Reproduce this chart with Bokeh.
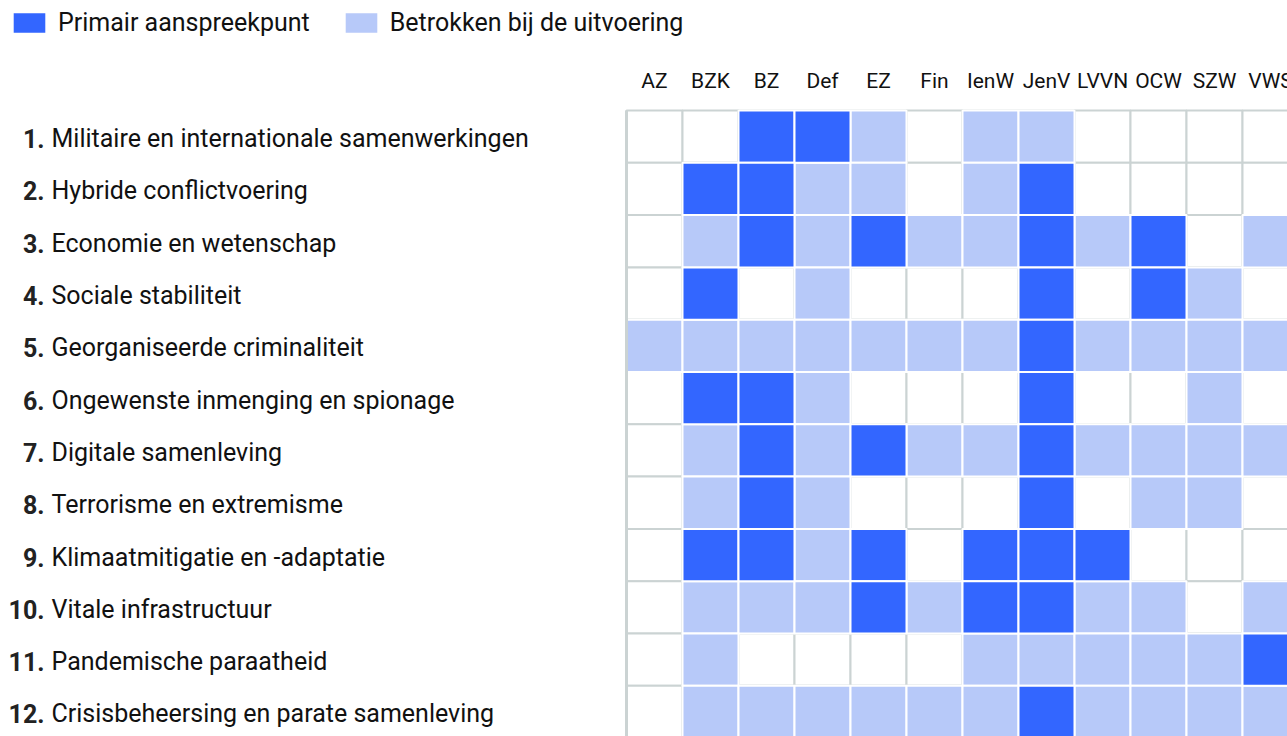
from bokeh.plotting import figure
from bokeh.models import Range1d, ColumnDataSource, Legend, LegendItem
from bokeh.core.properties import value
from bokeh.embed import file_html
from bokeh.resources import INLINE

# ---------------- data ----------------
ministries = ["AZ", "BZK", "BZ", "Def", "EZ", "Fin", "IenW", "JenV", "LVVN", "OCW", "SZW", "VWS"]
theme_numbers = ["1.", "2.", "3.", "4.", "5.", "6.", "7.", "8.", "9.", "10.", "11.", "12."]
themes = [
    "Militaire en internationale samenwerkingen",
    "Hybride conflictvoering",
    "Economie en wetenschap",
    "Sociale stabiliteit",
    "Georganiseerde criminaliteit",
    "Ongewenste inmenging en spionage",
    "Digitale samenleving",
    "Terrorisme en extremisme",
    "Klimaatmitigatie en -adaptatie",
    "Vitale infrastructuur",
    "Pandemische paraatheid",
    "Crisisbeheersing en parate samenleving",
]
# 2 = Primair aanspreekpunt, 1 = Betrokken bij de uitvoering, 0 = geen rol
#          AZ BZK BZ Def EZ Fin IenW JenV LVVN OCW SZW VWS
theme01 = [0, 0, 2, 2, 1, 0, 1, 1, 0, 0, 0, 0]
theme02 = [0, 2, 2, 1, 1, 0, 1, 2, 0, 0, 0, 0]
theme03 = [0, 1, 2, 1, 2, 1, 1, 2, 1, 2, 0, 1]
theme04 = [0, 2, 0, 1, 0, 0, 0, 2, 0, 2, 1, 0]
theme05 = [1, 1, 1, 1, 1, 1, 1, 2, 1, 1, 1, 1]
theme06 = [0, 2, 2, 1, 0, 0, 0, 2, 0, 0, 1, 0]
theme07 = [0, 1, 2, 1, 2, 1, 1, 2, 1, 1, 1, 1]
theme08 = [0, 1, 2, 1, 0, 0, 0, 2, 0, 1, 1, 0]
theme09 = [0, 2, 2, 1, 2, 0, 2, 2, 2, 0, 0, 0]
theme10 = [0, 1, 1, 1, 2, 1, 2, 2, 1, 1, 0, 1]
theme11 = [0, 1, 0, 0, 0, 0, 1, 1, 1, 1, 1, 2]
theme12 = [0, 1, 1, 1, 1, 1, 1, 2, 1, 1, 1, 1]
matrix = [theme01, theme02, theme03, theme04, theme05, theme06,
          theme07, theme08, theme09, theme10, theme11, theme12]
legend_labels = ["Primair aanspreekpunt", "Betrokken bij de uitvoering"]

# ---------------- style / layout ----------------
W, H = 1287, 736
CELL_W_PX, CELL_H_PX = 56.0, 52.3
GRID_LEFT_PX, GRID_TOP_PX = 626, 110
X0 = -GRID_LEFT_PX / CELL_W_PX
X1 = X0 + W / CELL_W_PX
Y0 = -GRID_TOP_PX / CELL_H_PX
Y1 = Y0 + H / CELL_H_PX
HEADER_Y = Y0 + 80 / CELL_H_PX
NUM_X = X0 + 44 / CELL_W_PX
TEXT_X = X0 + 51 / CELL_W_PX

DARK = "#3366ff"
LIGHT = "#b7c9f9"
GRID = "#cbd3d3"
FONT = "Roboto"

# ---------------- sources ----------------
all_x, all_y = [], []
dark_x, dark_y, light_x, light_y = [], [], [], []
for i, row in enumerate(matrix):
    for j, v in enumerate(row):
        all_x.append(j + 0.5)
        all_y.append(i + 0.5)
        if v == 2:
            dark_x.append(j + 0.5); dark_y.append(i + 0.5)
        elif v == 1:
            light_x.append(j + 0.5); light_y.append(i + 0.5)

p = figure(width=W, height=H, x_range=Range1d(X0, X1), y_range=Range1d(Y1, Y0),
           output_backend="svg", toolbar_location=None, min_border=0,
           x_axis_type=None, y_axis_type=None)
p.grid.visible = False
p.outline_line_color = None
p.background_fill_color = "white"
p.border_fill_color = "white"

# base grid
p.rect(x=all_x, y=all_y, width=1, height=1, fill_color="white",
       line_color=GRID, line_width=2)
r_light = p.rect(x=light_x, y=light_y, width=1, height=1, fill_color=LIGHT,
                 line_color="white", line_width=2)
r_dark = p.rect(x=dark_x, y=dark_y, width=1, height=1, fill_color=DARK,
                line_color="white", line_width=2)
# left border of the grid
p.segment(x0=[0], y0=[0], x1=[0], y1=[len(themes)], line_color=GRID, line_width=3)

# column headers
hsrc = ColumnDataSource(dict(x=[j + 0.5 for j in range(len(ministries))],
                             y=[HEADER_Y] * len(ministries), t=ministries))
p.text(x="x", y="y", text="t", source=hsrc, text_align="center",
       text_baseline="middle", text_font=value(FONT), text_font_size="21px",
       text_color="#111111")

# row labels
rsrc = ColumnDataSource(dict(yn=[i + 0.5 for i in range(len(themes))],
                             xn=[NUM_X] * len(themes), xt=[TEXT_X] * len(themes),
                             n=theme_numbers, t=themes))
p.text(x="xn", y="yn", text="n", source=rsrc, text_align="right",
       text_baseline="middle", text_font=value(FONT), text_font_size="25px",
       text_font_style="bold", text_color="#222222", y_offset=2)
p.text(x="xt", y="yn", text="t", source=rsrc, text_align="left",
       text_baseline="middle", text_font=value(FONT), text_font_size="25px",
       text_color="#111111", y_offset=2)

legend = Legend(items=[LegendItem(label=legend_labels[0], renderers=[r_dark]),
                       LegendItem(label=legend_labels[1], renderers=[r_light])],
                orientation="horizontal", location=(8, H - 37),
                glyph_width=42, glyph_height=27, label_standoff=8, spacing=30,
                padding=0, margin=0, border_line_color=None,
                background_fill_alpha=0, label_text_font=FONT,
                label_text_font_size="25px", label_text_color="#111111",
                label_height=20)
p.add_layout(legend, "center")

open("out.html", "w").write(file_html(p, INLINE))
